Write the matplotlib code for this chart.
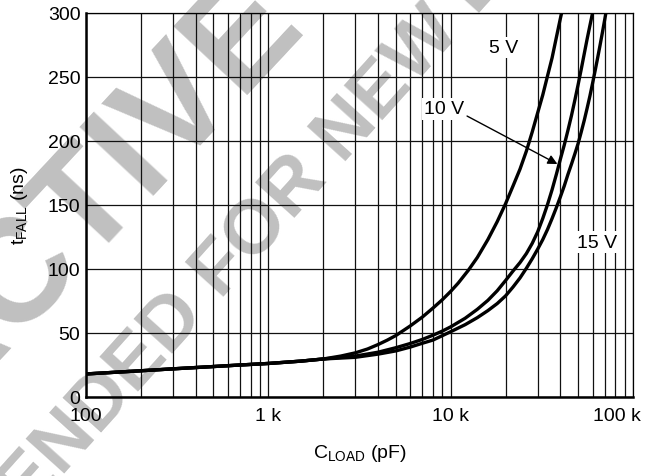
import numpy as np
import matplotlib.pyplot as plt
import matplotlib.transforms as mtransforms
from matplotlib.ticker import FixedLocator, FixedFormatter, NullFormatter

plt.rcParams['font.family'] = ['Liberation Sans', 'DejaVu Sans']
plt.rcParams['mathtext.default'] = 'regular'

# fall time (ns) vs load capacitance (pF)
c_low = [100, 200, 300, 500, 700, 1000, 1500, 2000]
t_low = [18, 20.5, 22, 23.8, 25, 26.2, 28, 29.7]

c_5v = c_low + [2500, 3000, 3500, 4000, 4500, 5000, 6000, 7000, 8000, 9000, 10000,
                11000, 12500, 14000, 16000, 18000, 20000, 22000, 24000, 26000, 28000,
                30000, 32000, 34000, 36000, 38000, 40000, 40600]
t_5v = t_low + [32, 34.5, 37.5, 41, 44.5, 48, 55.5, 62.5, 69.5, 76, 82.5,
                89, 99, 109, 123, 137, 151, 165, 178, 192, 207,
                222, 236, 251, 265, 281, 296, 300]

c_10v = c_low + [3000, 4000, 5000, 6000, 7000, 8000, 9000, 10000, 12000, 14000, 16000,
                 18000, 20000, 22000, 24000, 26000, 28000, 30000, 32000, 34000, 36000,
                 38000, 40000, 42000, 44000, 46000, 48000, 50000, 52000, 54000, 56000,
                 58000, 60000]
t_10v = t_low + [32, 35, 38.5, 41.8, 45, 48.3, 51.5, 54.8, 61.5, 68.5, 75.5,
                 83, 91, 98.5, 105, 112, 120, 129, 139.5, 150.5, 162,
                 174, 186, 197, 208.5, 220, 232, 244, 256, 268, 279.5,
                 290, 300]

c_15v = c_low + [3000, 4000, 5000, 6000, 7000, 8000, 10000, 12000, 14000, 16000, 18000,
                 20000, 22000, 24000, 26000, 28000, 30000, 32000, 34000, 36000, 38000,
                 40000, 42000, 44000, 46000, 48000, 50000, 52000, 54000, 56000, 58000,
                 60000, 62000, 64000, 66000, 68000, 70000, 71000]
t_15v = t_low + [31, 33.5, 36, 39, 42, 44.5, 51, 56.5, 62, 67.5, 73,
                 79, 86, 93, 100.5, 108, 115.5, 123, 131, 139.5, 148,
                 156.5, 165, 174, 182, 190, 198, 207, 216, 225.5, 235,
                 245, 255, 265, 275, 285, 295, 300]

x_major = [100, 1000, 10000, 100000]
x_major_labels = ['100', '1 k', '10 k', '100 k']
x_minor = [m * d for d in (100, 1000, 10000) for m in range(2, 10)]
y_ticks = [0, 50, 100, 150, 200, 250, 300]

W, H = 658, 477
fig = plt.figure(figsize=(W / 100, H / 100), dpi=100)

# watermark behind everything
wm = '#c0c0c0'
fig.text(45 / W, 1 - 246 / H, 'INACTIVE', color=wm, fontsize=105, fontweight='bold',
         rotation=47, rotation_mode='anchor', ha='center', va='center', zorder=-1)
fig.text(175 / W, 1 - 322 / H, 'NOT RECOMMENDED FOR NEW DESIGNS', color=wm, fontsize=55,
         fontweight='bold', rotation=48, rotation_mode='anchor', ha='center', va='center',
         zorder=-1)

ax = fig.add_axes([86 / W, 1 - 398 / H, (633 - 86) / W, (398 - 14) / H])
ax.set_facecolor('none')
ax.set_xscale('log')
ax.set_xlim(100, 100000)
ax.set_ylim(0, 300)

ax.xaxis.set_major_locator(FixedLocator(x_major))
ax.xaxis.set_major_formatter(FixedFormatter(x_major_labels))
ax.xaxis.set_minor_locator(FixedLocator(x_minor))
ax.xaxis.set_minor_formatter(NullFormatter())
ax.set_yticks(y_ticks)
ax.set_yticklabels([str(v) for v in y_ticks])

ax.grid(which='both', axis='x', color='#111111', lw=0.9)
ax.grid(which='major', axis='y', color='#111111', lw=0.9)
ax.set_axisbelow(True)
ax.tick_params(which='both', length=0, labelsize=14)
ax.tick_params(axis='x', pad=7)
ax.tick_params(axis='y', pad=4)

for s in ('left', 'bottom'):
    ax.spines[s].set_linewidth(1.8)
for s in ('top', 'right'):
    ax.spines[s].set_linewidth(0.9)

# nudge the last x label inwards like the original
lab = ax.get_xticklabels()[-1]
lab.set_transform(lab.get_transform() + mtransforms.ScaledTranslation(-16 / 100, 0, fig.dpi_scale_trans))

for c, t in ((c_5v, t_5v), (c_10v, t_10v), (c_15v, t_15v)):
    ax.plot(c, t, color='black', lw=2.4, zorder=3, solid_joinstyle='round')

box = dict(facecolor='white', edgecolor='none', pad=1.5)
ax.text(19400, 273, '5 V', fontsize=14, ha='center', va='center', bbox=box, zorder=4)
ax.text(9200, 225, '10 V', fontsize=14, ha='center', va='center', bbox=box, zorder=4)
ax.text(63500, 121, '15 V', fontsize=14, ha='center', va='center', bbox=box, zorder=4)
ax.annotate('', xy=(38500, 182), xytext=(12300, 219.5),
            arrowprops=dict(arrowstyle='-|>', color='black', lw=1.0,
                            mutation_scale=14, shrinkA=0, shrinkB=0), zorder=4)

ax.set_xlabel('C$_{LOAD}$ (pF)', fontsize=14)
ax.set_ylabel('t$_{FALL}$ (ns)', fontsize=14)
ax.xaxis.set_label_coords(0.5, -(443 - 398) / (398 - 14))
ax.yaxis.set_label_coords(-(86 - 30) / (633 - 86), 0.5)

fig.savefig('out.png', dpi=100)
